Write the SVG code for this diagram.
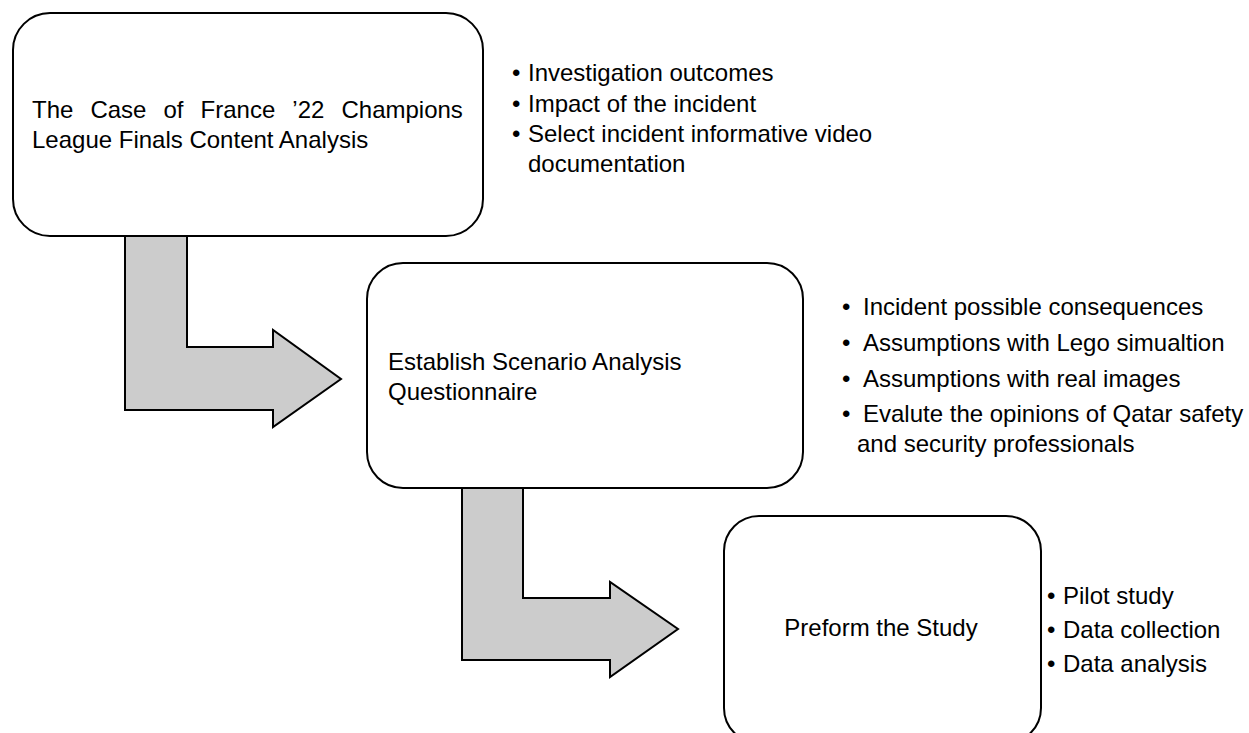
<svg xmlns="http://www.w3.org/2000/svg" width="1249" height="733" viewBox="0 0 1249 733">
<style>
.box{fill:#fff;stroke:#000;stroke-width:2}
.arrow{fill:#cccccc;stroke:#000;stroke-width:2;stroke-linejoin:miter}
text{font-family:"Liberation Sans",Arial,sans-serif;font-size:24px;fill:#000}
</style>
<rect width="1249" height="733" fill="#fff"/>
<g id="connectors">
<path class="arrow" d="M125,236 L187,236 L187,347 L273,347 L273,330 L341,379 L273,427 L273,410 L125,410 Z"/>
<path class="arrow" d="M462,488 L523,488 L523,598 L610,598 L610,582 L678,629 L610,677 L610,660 L462,660 Z"/>
</g>
<g id="node1">
<rect class="box" x="13" y="13" width="470" height="223" rx="37" ry="37"/>
<text x="32" y="118" word-spacing="10.4">The Case of France ’22 Champions</text>
<text x="32" y="148">League Finals Content Analysis</text>
</g>
<g id="notes1">
<text x="512" y="81">•</text><text x="528" y="81">Investigation outcomes</text>
<text x="512" y="111.5">•</text><text x="528" y="111.5">Impact of the incident</text>
<text x="512" y="142">•</text><text x="528" y="142">Select incident informative video</text>
<text x="528" y="172">documentation</text>
</g>
<g id="node2">
<rect class="box" x="367" y="263" width="436" height="225" rx="36" ry="36"/>
<text x="388" y="370">Establish Scenario Analysis</text>
<text x="388" y="400">Questionnaire</text>
</g>
<g id="notes2">
<text x="842" y="315">•</text><text x="863" y="315">Incident possible consequences</text>
<text x="842" y="351">•</text><text x="863" y="351">Assumptions with Lego simualtion</text>
<text x="842" y="386.5">•</text><text x="863" y="386.5">Assumptions with real images</text>
<text x="842" y="422">•</text><text x="863" y="422">Evalute the opinions of Qatar safety</text>
<text x="857" y="452">and security professionals</text>
</g>
<g id="node3">
<rect class="box" x="724" y="516" width="317" height="227" rx="35" ry="35"/>
<text x="881" y="636" text-anchor="middle">Preform the Study</text>
</g>
<g id="notes3">
<text x="1047" y="604">•</text><text x="1063" y="604">Pilot study</text>
<text x="1047" y="638">•</text><text x="1063" y="638">Data collection</text>
<text x="1047" y="672">•</text><text x="1063" y="672">Data analysis</text>
</g>
</svg>
